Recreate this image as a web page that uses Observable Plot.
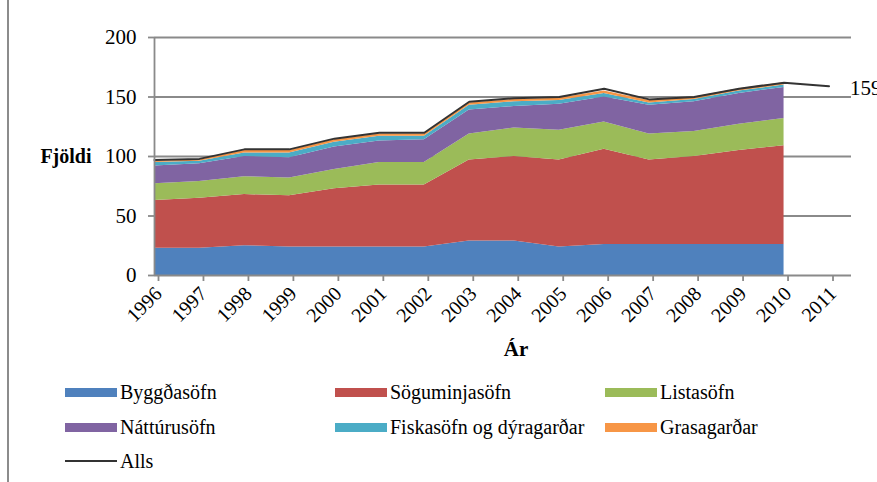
<!DOCTYPE html>
<html><head><meta charset="utf-8">
<script src="https://cdn.jsdelivr.net/npm/d3@7"></script>
<script src="https://cdn.jsdelivr.net/npm/@observablehq/plot@0.6"></script>
<style>
body{margin:0;background:#fff;font-family:'Liberation Serif';}
#wrap, #wrap *{font-family:'Liberation Serif' !important;}
.item{position:absolute;display:flex;align-items:center;font-size:20px;line-height:20px;color:#000;white-space:nowrap;}
.sw{display:inline-block;width:52px;height:9px;margin-right:3px;}
.ln{display:inline-block;width:52px;height:2px;margin-right:3px;background:#333;}
</style>
</head>
<body>
<div id="wrap" style="position:relative;width:877px;height:482px;overflow:hidden;background:#fff">
<div id="chart"></div>
<div style="position:absolute;left:7px;top:0;width:2px;height:482px;background:#8c8c8c"></div>
<div id="legend" style="position:absolute;left:0;top:0;width:877px;height:482px">
  <div class="item" style="left:65px;top:382px"><span class="sw" style="background:#4F81BD"></span><span>Byggðasöfn</span></div>
  <div class="item" style="left:335px;top:382px"><span class="sw" style="background:#C0504D"></span><span>Söguminjasöfn</span></div>
  <div class="item" style="left:605px;top:382px"><span class="sw" style="background:#9BBB59"></span><span>Listasöfn</span></div>
  <div class="item" style="left:65px;top:417px"><span class="sw" style="background:#8064A2"></span><span>Náttúrusöfn</span></div>
  <div class="item" style="left:335px;top:417px"><span class="sw" style="background:#4BACC6"></span><span>Fiskasöfn og dýragarðar</span></div>
  <div class="item" style="left:605px;top:417px"><span class="sw" style="background:#F79646"></span><span>Grasagarðar</span></div>
  <div class="item" style="left:65px;top:451px"><span class="ln"></span><span>Alls</span></div>
</div>
</div>
<script>
const years = [1996,1997,1998,1999,2000,2001,2002,2003,2004,2005,2006,2007,2008,2009,2010];
const seriesNames = ["Byggðasöfn","Söguminjasöfn","Listasöfn","Náttúrusöfn","Fiskasöfn og dýragarðar","Grasagarðar"];
const seriesColors = ["#4F81BD","#C0504D","#9BBB59","#8064A2","#4BACC6","#F79646"];
const byggdasofn   = [23,23,25,24,24,24,24,29,29,24,26,26,26,26,26];
const soguminjasofn= [40,42,43,43,49,52,52,68,71,73,80,71,74,79,83];
const listasofn    = [14,14,15,15,16,19,19,22,24,25,23,22,21,22,23];
const natturusofn  = [15,15,17,17,19,18,19,20,18,22,21,24,25,26,26];
const fiskasofn    = [3,2,3,4,4,4,3,4,4,3,3,2,2,2,2];
const grasagardar  = [1,1,2,2,2,2,2,2,2,2,2,2,2,2,2];
const allsYears = [1996,1997,1998,1999,2000,2001,2002,2003,2004,2005,2006,2007,2008,2009,2010,2011];
const alls      = [97,98,106,106,115,120,120,146,149,150,157,148,150,157,162,159];
const yTicks = [0,50,100,150,200];
const gridValues = [50,100,150,200];

const FONT = 'Liberation Serif';

const seriesValues = [byggdasofn,soguminjasofn,listasofn,natturusofn,fiskasofn,grasagardar];
const areaData = [];
seriesNames.forEach((name,i)=>years.forEach((yr,j)=>areaData.push({year:yr,series:name,value:seriesValues[i][j]})));
const totalData = allsYears.map((yr,j)=>({year:yr,value:alls[j]}));
const lastTotal = totalData[totalData.length-1];

const gray = "#8a8a8a";
const chart = Plot.plot({
  width: 877,
  height: 372,
  marginLeft: 154,
  marginRight: 26,
  marginTop: 37,
  marginBottom: 97,
  style: {fontFamily: FONT, background:"#fff", color:"#000", overflow:"visible"},
  x: {domain:[1996,2011.5], ticks: allsYears, tickFormat: d=>String(d)},
  y: {domain:[0,200]},
  color: {domain: seriesNames, range: seriesColors},
  marks: [
    Plot.ruleY(gridValues, {stroke: gray, strokeWidth: 1.8}),
    Plot.areaY(areaData, {x:"year", y:"value", fill:"series", order: seriesNames}),
    Plot.lineY(totalData, {x:"year", y:"value", stroke:"#333", strokeWidth:2}),
    Plot.text([lastTotal], {x:"year", y:"value", text: d=>String(d.value), textAnchor:"start", dx:21, dy:2, fontSize:21, fill:"#000"}),
    Plot.ruleX([1996], {y1:0, y2:200, stroke: gray, strokeWidth: 1.8}),
    Plot.ruleY([0], {stroke: gray, strokeWidth: 1.8}),
    Plot.axisY({ticks: yTicks, tickSize: 6, tickPadding: 12, stroke: gray, strokeWidth: 1.8, fontSize: 21, label: null}),
    Plot.axisX({ticks: allsYears, tickFormat: d=>String(d), tickSize: 6, tickPadding: 9, tickRotate: -45, dx: 4, stroke: gray, strokeWidth: 1.8, fontSize: 20, label: null}),
    Plot.text(["Ár"], {frameAnchor:"bottom", dx: 13, dy: 80, fontSize: 21, fontWeight:"bold", fill:"#000"}),
    Plot.text(["Fjöldi"], {frameAnchor:"left", y: [100], textAnchor:"end", dx:-63, fontSize: 20, fontWeight:"bold", fill:"#000"})
  ]
});
document.getElementById("chart").appendChild(chart);
</script>
</body></html>
